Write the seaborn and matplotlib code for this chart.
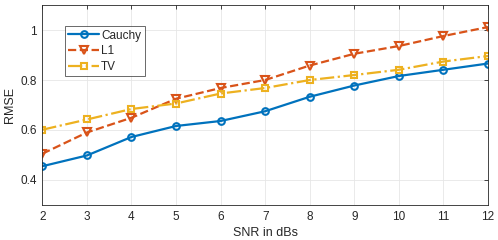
import numpy as np
import pandas as pd
import matplotlib
matplotlib.use('Agg')
import matplotlib.pyplot as plt
import seaborn as sns

snr = [2, 3, 4, 5, 6, 7, 8, 9, 10, 11, 12]
cauchy = [0.455, 0.498, 0.572, 0.616, 0.636, 0.675, 0.733, 0.778, 0.816, 0.841, 0.866]
l1 = [0.505, 0.590, 0.649, 0.725, 0.768, 0.800, 0.858, 0.905, 0.936, 0.976, 1.012]
tv = [0.601, 0.642, 0.684, 0.706, 0.746, 0.768, 0.800, 0.820, 0.841, 0.874, 0.896]
y_ticks = [0.4, 0.6, 0.8, 1.0]
y_tick_labels = ['0.4', '0.6', '0.8', '1']

sns.set_style('whitegrid')
plt.rcParams['font.family'] = ['Liberation Sans', 'DejaVu Sans']

df = pd.DataFrame({'SNR': snr, 'Cauchy': cauchy, 'L1': l1, 'TV': tv})
long_df = df.melt(id_vars='SNR', var_name='Method', value_name='RMSE')

fig = plt.figure(figsize=(4.98, 2.40), dpi=100)
ax = fig.add_axes([0.085, 0.146, 0.895, 0.833])

styles = {
    'Cauchy': dict(color='#0072BD', ls='-', marker='o', ms=4.8),
    'L1': dict(color='#D95319', ls='--', marker='v', ms=5.2),
    'TV': dict(color='#EDB120', ls='-.', marker='s', ms=4.2),
}
for name, st in styles.items():
    sub = long_df[long_df['Method'] == name]
    sns.lineplot(data=sub, x='SNR', y='RMSE', ax=ax, color=st['color'],
                 linestyle=st['ls'], marker=st['marker'], markersize=st['ms'],
                 markerfacecolor='none', markeredgecolor=st['color'], markeredgewidth=1.5,
                 linewidth=1.6, label=name)

ax.set_xlim(2, 12)
ax.set_ylim(0.3, 1.1)
ax.set_xticks(snr)
ax.set_yticks(y_ticks)
ax.set_yticklabels(y_tick_labels)
ax.set_xlabel('SNR in dBs', fontsize=9, color='#262626', labelpad=3)
ax.set_ylabel('RMSE', fontsize=9, color='#262626', labelpad=3)
ax.tick_params(axis='both', labelsize=8.5, colors='#262626', direction='in', length=3,
               width=0.6, pad=4, top=True, right=True)
ax.grid(True, color='#e6e6e6', linewidth=0.6)
for sp in ax.spines.values():
    sp.set_color('#262626')
    sp.set_linewidth(0.6)

leg = ax.legend(loc='upper left', bbox_to_anchor=(0.05, 0.895), fontsize=8.5,
                frameon=True, fancybox=False, handlelength=2.6, borderpad=0.3,
                labelspacing=0.3, handletextpad=0.2, borderaxespad=0)
leg.get_frame().set_edgecolor('#262626')
leg.get_frame().set_linewidth(0.6)

fig.savefig('out.png', dpi=100)
